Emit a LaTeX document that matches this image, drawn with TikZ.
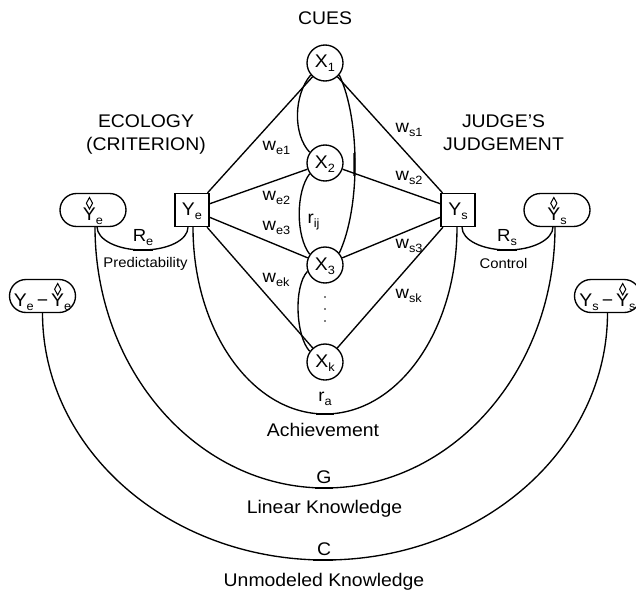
\documentclass[tikz,border=0pt]{standalone}
\usepackage{fontspec}
\setmainfont{Liberation Sans}[FakeStretch=1.06]
\usetikzlibrary{shapes.misc}
\newcommand\fsz[1]{\fontsize{#1}{#1}\selectfont}
\newcommand\sbs[1]{\raisebox{-4pt}{\fsz{12}#1}}
\newcommand\hatY{\ooalign{Y\cr\hidewidth\tikz[x=1pt,y=1pt,baseline=0pt]{\path (0,0);\draw[sharp corners,line width=1pt,line join=miter] (0,11)--(-3.1,16.8)--(0,22.5)--(3.1,16.8)--cycle;}\hidewidth\cr}}
\tikzset{
  cue/.style={circle,draw,minimum size=36pt,inner sep=0pt,text height=10pt,text depth=0pt,font=\fsz{18.3}},
  ybox/.style={rectangle,draw,minimum width=34pt,minimum height=33pt,inner sep=0pt,text height=10pt,text depth=0pt,font=\fsz{18.3}},
  pill/.style={rounded rectangle,draw,minimum width=66pt,minimum height=33pt,inner sep=0pt,text height=20pt,text depth=0pt,font=\fsz{18.3}},
  ttl/.style={inner sep=0pt,anchor=base,font=\fsz{18.3}},
  lbl/.style={inner sep=0pt,anchor=base west,font=\fsz{17.5}},
  clbl/.style={inner sep=0pt,anchor=base,font=\fsz{17.5}},
  small/.style={inner sep=0pt,anchor=base,font=\fsz{14}},
  thick seg/.style={line width=2.2pt}
}
\begin{document}
\begin{tikzpicture}[x=1pt,y=-1pt,line width=1.35pt]
\useasboundingbox (0,0) rectangle (636,591);
% cues
\node[cue] (x1) at (325,63) {X\sbs{1}};
\node[cue] (x2) at (325,163) {X\sbs{2}};
\node[cue] (x3) at (325,265) {X\sbs{3}};
\node[cue] (xk) at (325,362) {X\sbs{k}};
% criterion / judgement
\node[ybox] (ye) at (192,210) {Y\sbs{e}};
\node[ybox] (ys) at (458,210) {Y\sbs{s}};
\node[pill] (yhe) at (93,210) {\hatY\sbs{e}};
\node[pill] (yhs) at (557,210) {\hatY\sbs{s}};
\node[pill] (de) at (42.5,296) {Y\sbs{e}\,−\,\hatY\sbs{e}};
\node[pill] (ds) at (607.5,296) {Y\sbs{s}\,−\,\hatY\sbs{s}};
% titles
\node[ttl] (tcues) at (325,25) {CUES};
\node[ttl] (teco1) at (146,127) {ECOLOGY};
\node[ttl] (teco2) at (146,150) {(CRITERION)};
\node[ttl] (tjud1) at (503.5,127) {JUDGE’S};
\node[ttl] (tjud2) at (503.5,150) {JUDGEMENT};
% lens lines
\foreach \c in {x1,x2,x3,xk}{
  \draw (ye) -- (\c);
  \draw (ys) -- (\c);
}
% cue intercorrelations
\draw (x1.220) .. controls +(-17,20) and +(-17,-18) .. (x2.145);
\draw (x1.320) .. controls +(21,45) and +(21,-45) .. (x3.40);
\draw (x2.215) .. controls +(-14,18) and +(-14,-18) .. (x3.145);
\draw (x3.200) .. controls +(-14,15) and +(-14,-15) .. (xk.145);
\draw[line width=1.9pt] (354.2,153) -- (354.4,164) -- (354.2,176);
\foreach \yy in {297,309,321} \fill (325,\yy) circle (0.8pt);
% weight labels
\node[lbl] (we1) at (262,150) {w\sbs{e1}};
\node[lbl] (we2) at (262,200) {w\sbs{e2}};
\node[lbl] (we3) at (262,230) {w\sbs{e3}};
\node[lbl] (wek) at (262,282) {w\sbs{ek}};
\node[lbl] (ws1) at (395,132) {w\sbs{s1}};
\node[lbl] (ws2) at (395,180) {w\sbs{s2}};
\node[lbl] (ws3) at (395,248) {w\sbs{s3}};
\node[lbl] (wsk) at (395,298) {w\sbs{sk}};
\node[lbl] (rij) at (307,223) {r\sbs{ij}};
% arcs
\coordinate (bRe) at (142.5,250);
\coordinate (bRs) at (507.5,250);
\coordinate (bra) at (325,414);
\coordinate (bG) at (325,488);
\coordinate (bC) at (325,560);
\draw ([xshift=4pt]yhe.south) .. controls +(0,13) and +(-25.1,0) .. (bRe)
      .. controls +(25.1,0) and +(0,13) .. ([xshift=-4pt]ye.south);
\draw ([xshift=4pt]ys.south) .. controls +(0,13) and +(-25.1,0) .. (bRs)
      .. controls +(25.1,0) and +(0,13) .. ([xshift=-4pt]yhs.south);
\draw ([xshift=1pt]ye.south) .. controls +(0,103.6) and +(-72.9,0) .. (bra)
      .. controls +(72.9,0) and +(0,103.6) .. ([xshift=-1pt]ys.south);
\draw ([xshift=2pt]yhe.south) .. controls +(0,144.4) and +(-127,0) .. (bG)
      .. controls +(127,0) and +(0,144.4) .. ([xshift=-2pt]yhs.south);
\draw (de.south) .. controls +(0,136.7) and +(-156,0) .. (bC)
      .. controls +(156,0) and +(0,136.7) .. (ds.south);
\draw[thick seg] (133,250) -- (153,250);
\draw[thick seg] (497,250) -- (517,250);
\draw[thick seg] (316,414) -- (334,414);
\draw[thick seg] (315,488) -- (333,488);
\draw[thick seg] (313,560) -- (333,560);
% arc labels
\node[clbl] (lRe) at (143,241) {R\sbs{e}};
\node[clbl] (lRs) at (507,241) {R\sbs{s}};
\node[small] (lpred) at (145.5,267) {Predictability};
\node[small] (lctrl) at (503.5,268) {Control};
\node[clbl] (lra) at (325,401) {r\sbs{a}};
\node[ttl] (lach) at (323,436) {Achievement};
\node[ttl] (lG) at (324,483) {G};
\node[ttl] (llin) at (324.5,513) {Linear Knowledge};
\node[ttl] (lC) at (324,555) {C};
\node[ttl] (lunm) at (324,586) {Unmodeled Knowledge};
\end{tikzpicture}
\end{document}
